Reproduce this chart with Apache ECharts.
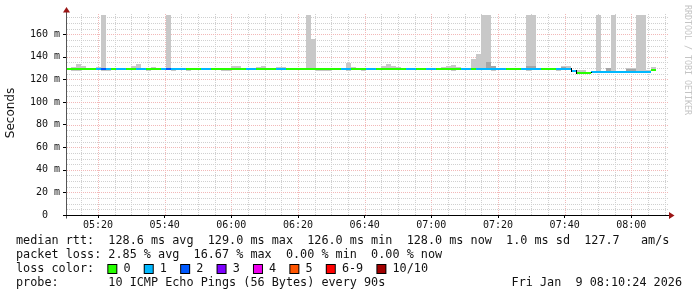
<!DOCTYPE html>
<html><head><meta charset="utf-8">
<script src="https://cdn.jsdelivr.net/npm/echarts@6/dist/echarts.min.js"></script>
<style>html,body{margin:0;padding:0;background:#fff}#c{width:697px;height:297px}</style>
</head><body><div id="c"></div>
<script>
// ---- time frame (minutes after midnight) ----
const START = 310.4;   // 05:10:24
const END = 490.4;     // 08:10:24
const STEP = 1.5;      // 90 s
const Y_MAX = 177;

const timeLabels = ['05:20','05:40','06:00','06:20','06:40','07:00','07:20','07:40','08:00'];
const yTicks = [0, 20, 40, 60, 80, 100, 120, 140, 160];

// median rtt (ms) per 90 s step
const median = [
  129,129,129,129,129,129,129,129,129,129,
  129,129,129,129,129,129,129,129,129,129,
  129,129,129,129,129,129,129,129,129,129,
  129,129,129,129,129,129,129,129,129,129,
  129,129,129,129,129,129,129,129,129,129,
  129,129,129,129,129,129,129,129,129,129,
  129,129,129,129,129,129,129,129,129,129,
  129,129,129,129,129,129,129,129,129,129,
  129,129,129,129,129,129,129,129,129,129,
  129,129,129,129,129,129,129,129,129,129,
  129,127.6,126.0,126.0,126.0,126.7,126.7,126.7,126.7,126.7,
  126.7,126.7,126.7,126.7,126.7,126.7,126.7,128.0
];
// lost pings (of 10) per step
const loss = [
  0,0,0,0,0,0,1,2,1,0,
  1,1,0,0,1,1,0,0,0,1,
  2,1,1,1,0,0,0,1,1,0,
  0,0,0,0,0,0,1,1,0,0,
  0,0,1,1,0,0,0,0,0,0,
  0,0,0,0,0,1,1,0,0,0,
  1,1,0,0,0,0,0,0,1,1,
  0,0,1,1,0,0,0,0,0,1,
  1,0,1,1,1,1,1,1,0,0,
  0,1,1,1,1,0,0,0,1,1,
  1,1,0,0,0,1,1,1,1,1,
  1,1,1,1,1,1,1,0
];
// smoke: [step, low ms, high ms]
const smokeLight = [
  [1,127.8,131.0],[2,127.4,133.6],[3,129.0,132.0],[6,129.0,131.0],[7,127.6,177],[8,127.6,129.0],
  [13,128.0,132.0],[14,129.0,133.6],[16,127.6,129.0],[17,129.0,131.0],[20,128.0,177],[21,127.6,129.0],
  [24,127.6,129.0],[31,127.6,129.0],[32,127.6,129.0],[33,129.0,131.9],[34,129.0,131.9],
  [38,129.0,131.0],[39,129.0,132.2],[42,129.0,131.0],[43,129.0,131.0],
  [48,129.0,177],[49,129.0,155.8],[50,127.6,129.0],[51,127.6,129.0],[52,127.6,129.0],
  [56,127.4,134.8],[57,129.0,131.0],[59,127.6,129.0],
  [63,129.0,131.9],[64,129.0,133.6],[65,129.0,131.9],[66,129.0,130.8],
  [75,129.0,131.0],[76,128.0,131.9],[77,127.6,132.7],[78,129.0,131.0],
  [81,129.0,138.0],[82,129.0,142.5],[83,129.0,177],[84,129.0,177],[85,127.6,129.0],
  [92,127.6,177],[93,129.0,177],[98,127.6,129.0],[99,129.0,132.0],[100,129.0,132.0],
  [102,126.0,128.3],[103,126.0,128.3],[106,126.7,177],[109,126.7,177],
  [112,126.7,130.3],[113,126.7,130.3],[114,126.7,177],[115,126.7,177],[116,126.7,128.5],[117,128.0,131.0]
];
const smokeDark = [
  [84,129.0,135.0],[85,129.0,132.0],[92,129.0,132.0],[93,129.0,132.0],[99,129.0,131.0],
  [108,126.7,130.3],[112,126.7,129.4],[113,126.7,129.4]
];
const lossColors = ['#26ff00','#00b8ff','#0059ff','#7e00ff','#ee00ee','#ff5500','#ff0000','#a10000'];
const lossLabels = ['0','1','2','3','4','5','6-9','10/10'];
const statsRtt = 'median rtt:  128.6 ms avg  129.0 ms max  126.0 ms min  128.0 ms now  1.0 ms sd  127.7   am/s';
const statsLoss = 'packet loss: 2.85 % avg  16.67 % max  0.00 % min  0.00 % now';
const probeText = 'probe:       10 ICMP Echo Pings (56 Bytes) every 90s';
const stampText = 'Fri Jan  9 08:10:24 2026';
const credit = 'RRDTOOL / TOBI OETIKER';

// ---- helpers ----
const hm = s => { const p = s.split(':').map(Number); return p[0]*60 + p[1]; };
const pad = n => String(n).padStart(2,'0');
const fmtTime = v => { const t = Math.round(v); return pad(Math.floor(t/60)) + ':' + pad(t % 60); };
const bucket = l => l <= 5 ? l : (l < 10 ? 6 : 7);
const MONO = '"DejaVu Sans Mono", monospace';

// grid line positions (axis furniture)
const gridItems = [];
for (let m = 315; m <= END; m += 5) gridItems.push([m, 0, 0, m % 20 === 0 ? 1 : 0]);
for (let v = 5; v < Y_MAX; v += 5) gridItems.push([START, v, 1, v % 20 === 0 ? 1 : 0]);

const medianData = median.map((m, i) => [START + i*STEP, m, loss[i], i > 0 ? median[i-1] : m]);
const toRect = arr => arr.map(d => [START + d[0]*STEP, d[1], d[2]]);

function smokeRender(color) {
  return function (params, api) {
    const t0 = api.value(0), lo = api.value(1), hi = Math.min(api.value(2), Y_MAX);
    const p0 = api.coord([t0, hi]), p1 = api.coord([t0 + STEP, lo]);
    const y0 = Math.round(p0[1]), y1 = Math.round(p1[1]);
    return { type: 'rect', shape: { x: Math.round(p0[0]), y: y0, width: Math.round(p1[0]) - Math.round(p0[0]), height: Math.max(1, y1 - y0) },
             style: { fill: color } };
  };
}

const chart = echarts.init(document.getElementById('c'), null, { renderer: 'canvas', width: 697, height: 297 });
chart.setOption({
  animation: false,
  backgroundColor: '#ffffff',
  grid: { left: 66, right: 31, top: 15, bottom: 82, outerBoundsMode: 'none' },
  xAxis: {
    type: 'value', min: START, max: END,
    axisLine: { show: false }, splitLine: { show: false },
    axisTick: { show: true, customValues: timeLabels.map(hm), length: 3, lineStyle: { color: '#000' } },
    axisLabel: { customValues: timeLabels.map(hm), formatter: fmtTime, fontFamily: MONO, fontSize: 10, color: '#111', margin: 5 }
  },
  yAxis: {
    type: 'value', min: 0, max: Y_MAX,
    axisLine: { show: false }, splitLine: { show: false },
    axisTick: { show: true, customValues: yTicks, length: 3, lineStyle: { color: '#000' } },
    axisLabel: { customValues: yTicks, formatter: v => v === 0 ? '0  ' : v + ' m', fontFamily: MONO, fontSize: 10, color: '#111', margin: 6 }
  },
  series: [
    { type: 'custom', name: 'grid', z: 1, silent: true, data: gridItems,
      renderItem: function (params, api) {
        const cs = params.coordSys;
        const major = api.value(3) === 1;
        const color = major ? '#f2b8b8' : '#d0d0d0';
        if (api.value(2) === 0) {
          const x = Math.round(api.coord([api.value(0), 0])[0]) + 0.5;
          return { type: 'line', shape: { x1: x, y1: cs.y + cs.height, x2: x, y2: cs.y - 1 },
                   style: { stroke: color, lineWidth: 1, lineDash: [1, 1] } };
        }
        const y = Math.round(api.coord([START, api.value(1)])[1]) + 0.5;
        return { type: 'line', shape: { x1: cs.x + 1, y1: y, x2: cs.x + cs.width + 2, y2: y },
                 style: { stroke: color, lineWidth: 1, lineDash: [1, 1] } };
      } },
    { type: 'custom', name: 'smoke', z: 2, silent: true, data: toRect(smokeLight), renderItem: smokeRender('#c8c8c8') },
    { type: 'custom', name: 'smoke2', z: 3, silent: true, data: toRect(smokeDark), renderItem: smokeRender('#a6a6a6') },
    { type: 'custom', name: 'median', z: 4, silent: true, data: medianData,
      renderItem: function (params, api) {
        const t0 = api.value(0), m = api.value(1), l = api.value(2), pm = api.value(3);
        const a = api.coord([t0, m]), b = api.coord([t0 + STEP, m]);
        const yc = Math.round(a[1]);
        const children = [{ type: 'rect', shape: { x: Math.round(a[0]), y: yc - 1, width: Math.round(b[0]) - Math.round(a[0]), height: 2 },
                            style: { fill: lossColors[bucket(l)] } }];
        if (pm !== m) {
          const c = api.coord([t0, pm]);
          const x = Math.round(a[0]) + 0.5;
          children.push({ type: 'line', shape: { x1: x, y1: Math.round(c[1]) - 1, x2: x, y2: yc + 1 }, style: { stroke: '#000', lineWidth: 1 } });
        }
        return { type: 'group', children: children };
      } },
    { type: 'custom', name: 'axes', z: 5, silent: true, data: [[START, 0]],
      renderItem: function (params, api) {
        const cs = params.coordSys;
        const o = api.coord([START, 0]);
        const ax = Math.round(o[0]) + 0.5, ay = Math.round(o[1]) + 0.5;
        const xr = cs.x + cs.width + 3;
        return { type: 'group', children: [
          { type: 'line', shape: { x1: ax, y1: ay + 3, x2: ax, y2: cs.y - 3 }, style: { stroke: '#555', lineWidth: 1 } },
          { type: 'line', shape: { x1: ax - 3, y1: ay, x2: xr, y2: ay }, style: { stroke: '#000', lineWidth: 1 } },
          { type: 'polygon', shape: { points: [[ax - 3.5, cs.y - 2.5], [ax + 3.5, cs.y - 2.5], [ax, cs.y - 8]] }, style: { fill: '#9a1515' } },
          { type: 'polygon', shape: { points: [[xr, ay - 3.5], [xr, ay + 3.5], [xr + 5.5, ay]] }, style: { fill: '#9a1515' } }
        ] };
      } }
  ],
  graphic: [
    { type: 'text', x: 11, y: 113, rotation: Math.PI / 2,
      style: { text: 'Seconds', fontFamily: '"DejaVu Sans", sans-serif', fontSize: 12, fill: '#111', align: 'center', verticalAlign: 'middle' } },
    { type: 'text', x: 687, y: 60, rotation: -Math.PI / 2,
      style: { text: credit, fontFamily: MONO, fontSize: 8.3, fill: '#c4c4c4', align: 'center', verticalAlign: 'middle' } },
    { type: 'text', x: 16, y: 241, style: { text: statsRtt, fontFamily: MONO, fontSize: 11.8, fill: '#111', verticalAlign: 'middle' } },
    { type: 'text', x: 16, y: 255, style: { text: statsLoss, fontFamily: MONO, fontSize: 11.8, fill: '#111', verticalAlign: 'middle' } },
    { type: 'text', x: 16, y: 269, style: {
        text: 'loss color:  ' + lossLabels.map((l, i) => '{b' + i + '|} ' + l).join('  '),
        fontFamily: MONO, fontSize: 11.8, fill: '#111', verticalAlign: 'middle',
        rich: Object.fromEntries(lossColors.map((c, i) => ['b' + i, { width: 8, height: 8, backgroundColor: c, borderColor: '#000', borderWidth: 1 }])) } },
    { type: 'text', x: 16, y: 283, style: { text: probeText, fontFamily: MONO, fontSize: 11.8, fill: '#111', verticalAlign: 'middle' } },
    { type: 'text', x: 682, y: 283, style: { text: stampText, fontFamily: MONO, fontSize: 11.8, fill: '#111', align: 'right', verticalAlign: 'middle' } }
  ]
});
</script>
</body></html>
